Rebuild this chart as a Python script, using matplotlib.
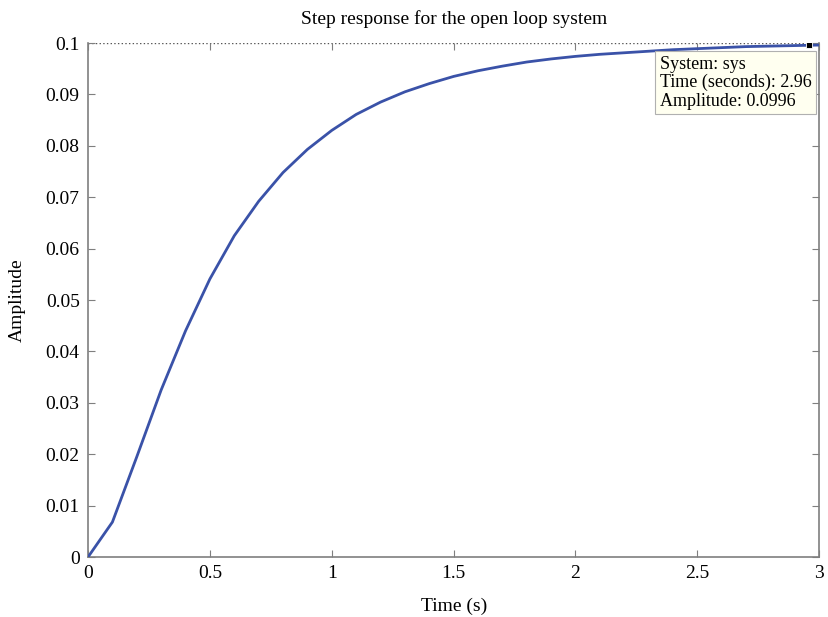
import numpy as np
import matplotlib.pyplot as plt

plt.rcParams['font.family'] = ['Liberation Serif', 'DejaVu Serif']

# step response samples
t = [0.0, 0.1, 0.2, 0.3, 0.4, 0.5, 0.6, 0.7, 0.8, 0.9, 1.0,
     1.1, 1.2, 1.3, 1.4, 1.5, 1.6, 1.7, 1.8, 1.9, 2.0,
     2.1, 2.2, 2.3, 2.4, 2.5, 2.6, 2.7, 2.8, 2.9, 3.0]
amp = [0.0, 0.0068, 0.0195, 0.0325, 0.0440, 0.0541, 0.0625, 0.0692, 0.0748, 0.0793, 0.0830,
       0.0861, 0.0885, 0.0905, 0.0921, 0.0935, 0.0946, 0.0955, 0.0963, 0.0969, 0.0974,
       0.0978, 0.0981, 0.0984, 0.0987, 0.0989, 0.0991, 0.0993, 0.0994, 0.0995, 0.0996]
steady = 0.1
tip_t, tip_amp = 2.96, 0.0996
xticks = [0, 0.5, 1, 1.5, 2, 2.5, 3]
xticklabels = ['0', '0.5', '1', '1.5', '2', '2.5', '3']
yticks = [0, 0.01, 0.02, 0.03, 0.04, 0.05, 0.06, 0.07, 0.08, 0.09, 0.1]
yticklabels = ['0', '0.01', '0.02', '0.03', '0.04', '0.05', '0.06', '0.07', '0.08', '0.09', '0.1']

fig = plt.figure(figsize=(8.29, 6.17), dpi=100)
ax = fig.add_axes([0.1062, 0.0972, 0.882, 0.8331])

gray = '#7f7f7f'
ax.axhline(steady, color='#555555', linestyle=':', linewidth=1.0, zorder=1)
ax.plot(t, amp, color='#3a52a8', linewidth=2.0, zorder=3)
ax.plot([tip_t], [tip_amp], marker='s', color='black', markersize=4.5,
        markeredgecolor='white', markeredgewidth=0.6, zorder=5)
ax.text(2.345, 0.0975, 'System: sys\nTime (seconds): 2.96\nAmplitude: 0.0996',
        fontsize=13, va='top', ha='left', linespacing=1.1, zorder=6,
        bbox=dict(boxstyle='square,pad=0.25', facecolor='#fffff0', edgecolor='#b0b0b0', linewidth=0.8))

ax.set_xlim(0, 3)
ax.set_ylim(0, 0.1)
ax.set_xticks(xticks)
ax.set_xticklabels(xticklabels)
ax.set_yticks(yticks)
ax.set_yticklabels(yticklabels)
ax.tick_params(direction='in', length=5, color=gray, labelsize=14, top=True, right=True, pad=6)

for side in ['left', 'bottom', 'right']:
    ax.spines[side].set_color(gray)
    ax.spines[side].set_linewidth(1.2)
ax.spines['top'].set_visible(False)

ax.set_title('Step response for the open loop system', fontsize=14, pad=14)
ax.set_xlabel('Time (s)', fontsize=14, labelpad=11)
ax.set_ylabel('Amplitude', fontsize=14, labelpad=14)

fig.savefig('out.png', dpi=100)
